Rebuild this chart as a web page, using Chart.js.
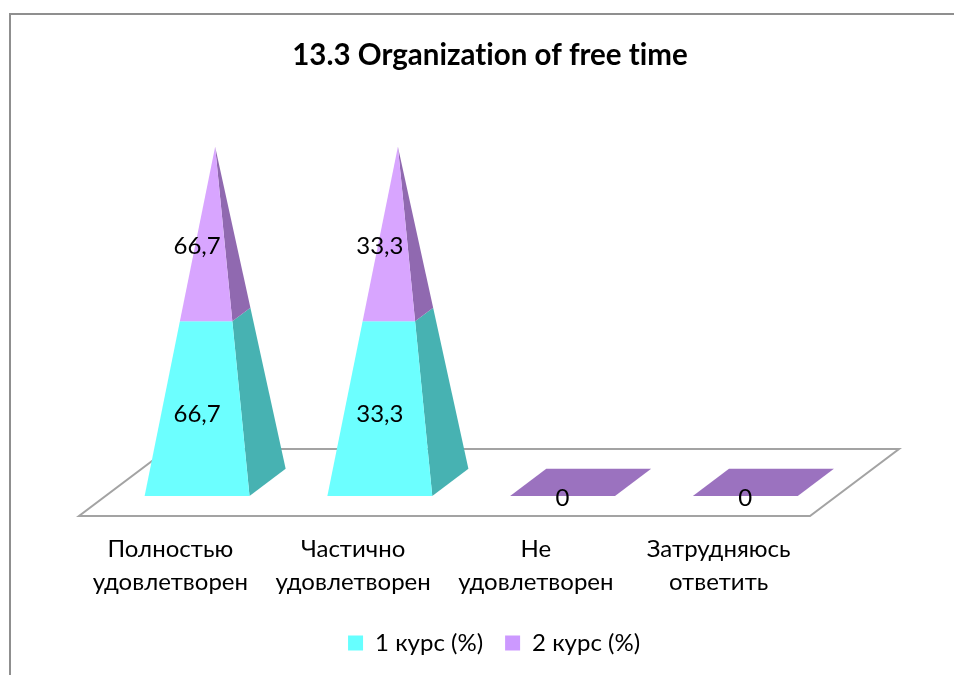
<!DOCTYPE html>
<html><head><meta charset="utf-8">
<style>html,body{margin:0;padding:0;background:#fff}canvas{display:block}</style>
<script src="https://cdn.jsdelivr.net/npm/chart.js@4"></script>
</head><body><canvas id="c" width="954" height="675"></canvas>
<script>
const chartTitle = '13.3 Organization of free time';
const categories = [['Полностью','удовлетворен'],['Частично','удовлетворен'],['Не','удовлетворен'],['Затрудняюсь','ответить']];
const course1 = [66.7, 33.3, 0, 0];
const course2 = [66.7, 33.3, 0, 0];
const seriesNames = ['1 курс (%)', '2 курс (%)'];
const FONT = 'Lato, "Open Sans", sans-serif';
const frontColors = ['#6CFFFF', '#D8A5FF'];
const sideColors = ['#47B2B2', '#9069B0'];
const legendColors = ['#66FFFF', '#CC99FF'];
const flatColor = '#9B72BF';
const DEPTH_X = 89, DEPTH_Y = 67, D0 = 0.3, D1 = 0.706;
const share = (a, b) => a.map((v, i) => (a[i] + b[i]) ? v / (a[i] + b[i]) * 100 : 0);
const rawValues = [course1, course2];

const pyramid = {
  id: 'pyramid',
  afterLayout(chart) {
    const lg = chart.legend;
    lg.left += 4; lg.right += 4; lg.top -= 10; lg.bottom -= 10;
  },
  beforeDraw(chart) {
    const {ctx, width, height} = chart;
    ctx.letterSpacing = '0.01px';
    ctx.save();
    ctx.fillStyle = '#fff'; ctx.fillRect(0, 0, width, height);
    ctx.strokeStyle = '#8f8f8f'; ctx.lineWidth = 2;
    ctx.beginPath(); ctx.moveTo(10, height); ctx.lineTo(10, 14); ctx.lineTo(width, 14); ctx.stroke();
    ctx.restore();
  },
  beforeDatasetsDraw(chart) {
    const {ctx, chartArea: ca, scales} = chart;
    const yS = scales.y, fullH = yS.getPixelForValue(0) - yS.getPixelForValue(100);
    const y0 = yS.getPixelForValue(0);
    const dm = (D0 + D1) / 2, dh = (D1 - D0) / 2;
    const pt = (cx, hw, xf, zf, f) => {
      const d = dm + zf * dh * (1 - f);
      return [cx + xf * hw * (1 - f) + DEPTH_X * d, y0 - f * fullH - DEPTH_Y * d];
    };
    const poly = (pts, color) => {
      ctx.fillStyle = color; ctx.beginPath();
      pts.forEach((p, i) => i ? ctx.lineTo(p[0], p[1]) : ctx.moveTo(p[0], p[1]));
      ctx.closePath(); ctx.fill();
    };
    ctx.save();
    // floor
    ctx.fillStyle = '#fff'; ctx.strokeStyle = '#a3a3a3'; ctx.lineWidth = 2;
    ctx.beginPath();
    ctx.moveTo(ca.left, ca.bottom); ctx.lineTo(ca.right, ca.bottom);
    ctx.lineTo(ca.right + DEPTH_X, ca.bottom - DEPTH_Y); ctx.lineTo(ca.left + DEPTH_X, ca.bottom - DEPTH_Y);
    ctx.closePath(); ctx.fill(); ctx.stroke();
    // marks
    chart.data.labels.forEach((_, j) => {
      chart.data.datasets.forEach((ds, i) => {
        const el = chart.getDatasetMeta(i).data[j];
        const cx = el.x, hw = el.width / 2;
        const f0 = (y0 - el.base) / fullH, f1 = (y0 - el.y) / fullH;
        if (f1 - f0 <= 0) {
          if (i === chart.data.datasets.length - 1)
            poly([pt(cx,hw,-1,-1,f1), pt(cx,hw,1,-1,f1), pt(cx,hw,1,1,f1), pt(cx,hw,-1,1,f1)], flatColor);
          return;
        }
        poly([pt(cx,hw,1,-1,f0), pt(cx,hw,1,1,f0), pt(cx,hw,1,1,f1), pt(cx,hw,1,-1,f1)], sideColors[i]);
        poly([pt(cx,hw,-1,-1,f0), pt(cx,hw,1,-1,f0), pt(cx,hw,1,-1,f1), pt(cx,hw,-1,-1,f1)], frontColors[i]);
      });
    });
    // value labels
    ctx.fillStyle = '#000'; ctx.font = '24px ' + FONT; ctx.textAlign = 'center'; ctx.textBaseline = 'middle';
    chart.data.labels.forEach((_, j) => {
      chart.data.datasets.forEach((ds, i) => {
        const el = chart.getDatasetMeta(i).data[j];
        const v = rawValues[i][j];
        if (v === 0 && i === 0) return;
        const midY = (el.y + el.base) / 2 - DEPTH_Y * D0 + 2, midX = el.x + DEPTH_X * D0;
        ctx.fillText(String(v).replace('.', ','), midX, midY);
      });
    });
    ctx.restore();
    return false;
  }
};

new Chart(document.getElementById('c'), {
  type: 'bar',
  data: {
    labels: categories,
    datasets: [
      {label: seriesNames[0], data: share(course1, course2), backgroundColor: legendColors[0], stack: 's'},
      {label: seriesNames[1], data: share(course2, course1), backgroundColor: legendColors[1], stack: 's'}
    ]
  },
  plugins: [pyramid],
  options: {
    responsive: false, animation: false,
    devicePixelRatio: 1,
    datasets: {bar: {categoryPercentage: 1, barPercentage: 0.574}},
    layout: {padding: {left: 26, right: 0, top: 38, bottom: 0}},
    plugins: {
      tooltip: {enabled: false},
      title: {display: true, text: chartTitle, color: '#000',
        font: {family: FONT, size: 29.5, weight: 'bold'}, padding: {top: 0, bottom: 107}},
      legend: {position: 'bottom',
        labels: {boxWidth: 15, boxHeight: 15, color: '#000', padding: 22,
          font: {family: FONT, size: 24}}}
    },
    scales: {
      x: {stacked: true, grid: {display: false}, border: {display: false},
        afterFit(s) { s.height = 103; },
        ticks: {color: '#000', font: {family: FONT, size: 24, lineHeight: 1.38}, padding: 9, maxRotation: 0, minRotation: 0, autoSkip: false}},
      y: {stacked: true, min: 0, max: 100, position: 'left', grid: {display: false}, border: {display: false},
        ticks: {display: false}, afterFit(s) { s.width = 53; }},
      y2: {position: 'right', grid: {display: false}, border: {display: false},
        ticks: {display: false}, afterFit(s) { s.width = 144; }}
    }
  }
});
</script></body></html>
